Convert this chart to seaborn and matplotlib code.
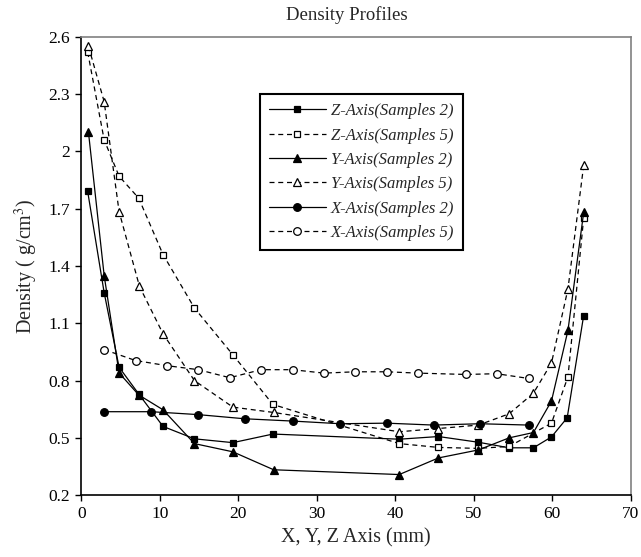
import matplotlib
matplotlib.use('Agg')
import matplotlib.pyplot as plt
import seaborn as sns

# valores
z2_x = [0.8, 2.9, 4.8, 7.3, 10.4, 14.4, 19.3, 24.4, 40.5, 45.5, 50.6, 54.5, 57.6, 59.9, 61.9, 64.0]
z2_y = [1.79, 1.26, 0.87, 0.73, 0.56, 0.495, 0.475, 0.52, 0.493, 0.507, 0.477, 0.448, 0.448, 0.505, 0.605, 1.14]

z5_x = [0.8, 2.9, 4.8, 7.3, 10.4, 14.4, 19.3, 24.4, 40.5, 45.5, 50.5, 54.5, 59.9, 62.0, 64.0]
z5_y = [2.52, 2.06, 1.87, 1.755, 1.46, 1.18, 0.935, 0.675, 0.47, 0.45, 0.445, 0.455, 0.577, 0.82, 1.65]

y2_x = [0.9, 2.9, 4.8, 7.3, 10.4, 14.4, 19.3, 24.5, 40.5, 45.5, 50.6, 54.5, 57.6, 59.9, 62.0, 64.0]
y2_y = [2.10, 1.35, 0.84, 0.725, 0.647, 0.47, 0.427, 0.333, 0.308, 0.395, 0.437, 0.50, 0.528, 0.693, 1.063, 1.68]

y5_x = [0.9, 2.9, 4.8, 7.4, 10.4, 14.4, 19.3, 24.5, 40.5, 45.5, 50.6, 54.5, 57.6, 59.9, 62.0, 64.0]
y5_y = [2.55, 2.26, 1.685, 1.293, 1.045, 0.80, 0.661, 0.633, 0.532, 0.549, 0.567, 0.626, 0.734, 0.892, 1.28, 1.926]

x2_x = [2.9, 8.9, 14.8, 20.8, 26.9, 33.0, 38.9, 44.9, 50.8, 57.0]
x2_y = [0.637, 0.637, 0.622, 0.60, 0.588, 0.574, 0.577, 0.567, 0.574, 0.567]

x5_x = [2.9, 6.9, 10.9, 14.9, 18.9, 22.9, 26.9, 30.9, 34.9, 38.9, 42.9, 49.0, 52.9, 57.0]
x5_y = [0.962, 0.905, 0.878, 0.857, 0.815, 0.857, 0.857, 0.839, 0.846, 0.846, 0.839, 0.832, 0.836, 0.811]

series_labels = ['Z-Axis(Samples 2)', 'Z-Axis(Samples 5)', 'Y-Axis(Samples 2)',
                 'Y-Axis(Samples 5)', 'X-Axis(Samples 2)', 'X-Axis(Samples 5)']
y_ticks = [0.2, 0.5, 0.8, 1.1, 1.4, 1.7, 2.0, 2.3, 2.6]
y_tick_labels = ['0.2', '0.5', '0.8', '1.1', '1.4', '1.7', '2', '2.3', '2.6']
x_ticks = [0, 10, 20, 30, 40, 50, 60, 70]

sns.set_theme(style='ticks')
plt.rcParams['font.family'] = ['Liberation Serif', 'DejaVu Serif']
plt.rcParams['mathtext.fontset'] = 'stix'

fig = plt.figure(figsize=(6.41, 5.57), dpi=100)
ax = fig.add_axes([0.127, 0.111, 0.857, 0.823])

dash = (0, (4, 3))
series = [
    (z2_x, z2_y, 's', 'black', '-', 5.0),
    (z5_x, z5_y, 's', 'white', dash, 5.0),
    (y2_x, y2_y, '^', 'black', '-', 6.0),
    (y5_x, y5_y, '^', 'white', dash, 6.0),
    (x2_x, x2_y, 'o', 'black', '-', 5.5),
    (x5_x, x5_y, 'o', 'white', dash, 5.5),
]
for (xs, ys, mk, face, ls, ms), lab in zip(series, series_labels):
    sns.lineplot(x=xs, y=ys, ax=ax, sort=False, color='black', linewidth=0.9,
                 linestyle=ls, marker=mk, markersize=ms, markerfacecolor=face,
                 markeredgecolor='black', markeredgewidth=0.9, label=lab)

ax.set_xlim(0, 70)
ax.set_ylim(0.2, 2.6)
ax.set_xticks(x_ticks)
ax.set_yticks(y_ticks)
ax.set_yticklabels(y_tick_labels)
ax.tick_params(axis='both', direction='out', length=4, width=1, colors='black',
               labelsize=12.5, pad=4)

for side in ['left', 'bottom']:
    ax.spines[side].set_color('black')
    ax.spines[side].set_linewidth(1.2)
for side in ['top', 'right']:
    ax.spines[side].set_visible(True)
    ax.spines[side].set_color('#808080')
    ax.spines[side].set_linewidth(1.2)

ax.set_xlabel('X, Y, Z Axis (mm)', fontsize=14.5, labelpad=4)
ax.set_ylabel('Density ( g/cm$^3$)', fontsize=14.5, labelpad=6)
fig.text(0.541, 0.973, 'Density Profiles', ha='center', va='center', fontsize=13.5)

leg = ax.legend(loc='upper left', bbox_to_anchor=(0.325, 0.875), frameon=True,
                fancybox=False, shadow=False, edgecolor='black', framealpha=1,
                prop={'family': 'Liberation Serif', 'style': 'italic', 'size': 12},
                handlelength=3.4, handletextpad=0.3, labelspacing=0.5,
                borderpad=0.55, borderaxespad=0)
leg.get_frame().set_linewidth(1.5)

fig.savefig('out.png', dpi=100)
